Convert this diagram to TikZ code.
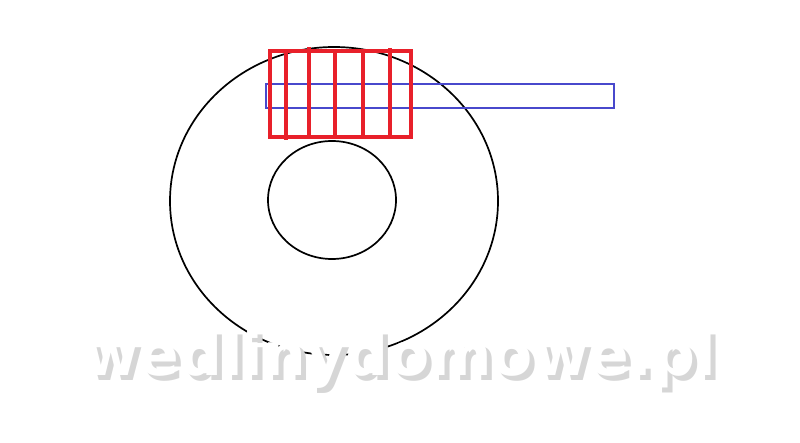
\documentclass[tikz,border=0pt]{standalone}
\usepackage{fontspec}
\newfontfamily\wmfont{DejaVu Sans Bold}
\definecolor{redline}{HTML}{E8202A}
\definecolor{blueline}{HTML}{4848CC}
\tikzset{
  blackline/.style={draw=black, line width=1.7pt},
  redbox/.style={draw=redline, line width=3.6pt},
  bluebox/.style={draw=blueline, line width=2pt},
  wm/.style={font=\wmfont\fontsize{60}{60}\selectfont, inner sep=0pt, anchor=base west},
}
\begin{document}
\begin{tikzpicture}[x=1pt,y=-1pt]
\useasboundingbox (0,0) rectangle (800,443);
% disc
\draw[blackline] (334,201) ellipse [x radius=164, y radius=154];
\draw[blackline] (332,200) ellipse [x radius=64, y radius=59];
% blue strip
\draw[bluebox] (265.5,84) rectangle (614,108);
% red grid
\draw[redbox] (270,51) rectangle (411,137);
\draw[redbox] (286,51) -- (286,140);
\draw[redbox] (309,47) -- (309,137);
\draw[redbox] (335,51) -- (335,137);
\draw[redbox] (363,51) -- (363,137);
\draw[redbox] (390,48) -- (390,137);
% watermark with soft shadow
\node[wm, text=black!16] (wmshadow) at (88,381) {wedlinydomowe.pl};
\node[wm, text=white] (wm) at (83,375) {wedlinydomowe.pl};
\end{tikzpicture}
\end{document}
